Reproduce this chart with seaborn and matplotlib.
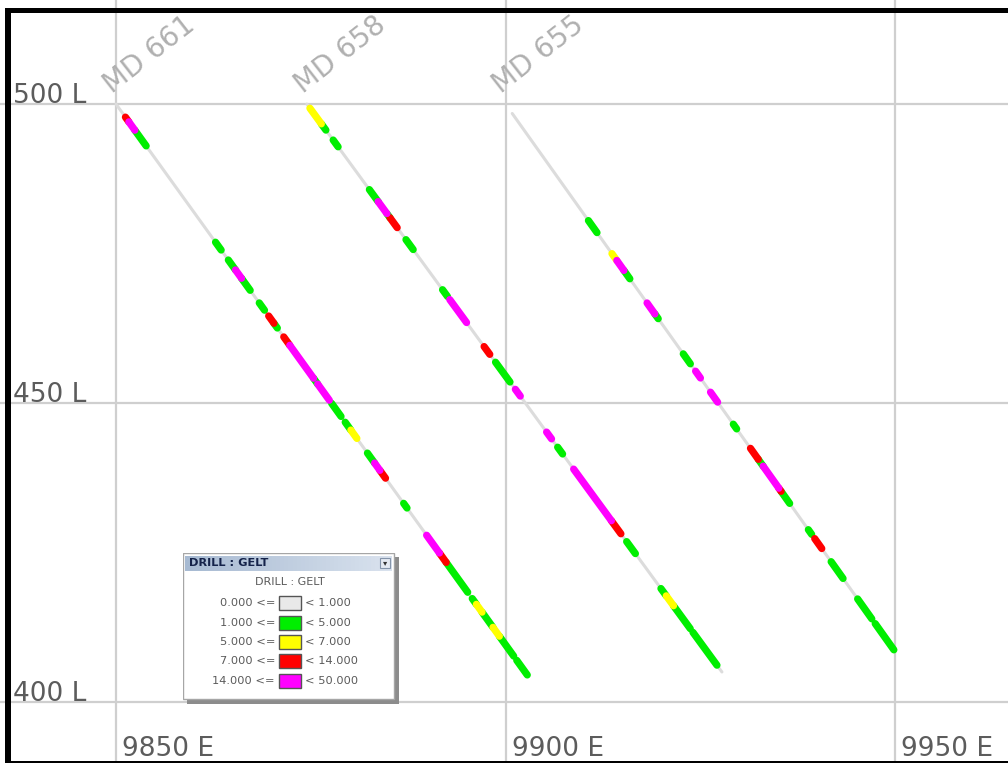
import numpy as np
import pandas as pd
import matplotlib
matplotlib.use("Agg")
import matplotlib.pyplot as plt
import seaborn as sns
from matplotlib.patches import Rectangle
from matplotlib.colors import LinearSegmentedColormap

# ---------------- data ----------------
hole_ids = ["MD 661", "MD 658", "MD 655"]
collar_e = [9850.0, 9874.5, 9900.0]
collar_rl = [500.0, 500.0, 500.0]
hole_dip = [-61.06, -60.71, -61.36]
hole_start = [0.0, 0.0, 1.8]
hole_length = [109.1, 108.9, 104.0]

# GELT grade classes (legend)
bin_lo = [0.0, 1.0, 5.0, 7.0, 14.0]
bin_hi = [1.0, 5.0, 7.0, 14.0, 50.0]
bin_colors = ["#e9e9e9", "#00ee00", "#ffff00", "#ff0000", "#ff00ff"]

# sampled intervals: from (m), to (m), class (1=G 1-5, 2=Y 5-7, 3=R 7-14, 4=M 14-50)
md661_from = [2.5, 3.4, 5.0, 26.4, 29.8, 31.7, 33.3, 38.0, 40.5, 41.9, 44.5, 46.1, 52.4, 53.5, 57.2,
              60.8, 62.3, 66.7, 68.6, 70.0, 76.3, 82.4, 85.8, 87.6, 94.5, 95.6, 97.1, 100.0, 101.7, 106.3]
md661_to = [3.4, 5.0, 8.0, 27.9, 31.7, 33.3, 35.6, 39.4, 41.9, 42.8, 46.1, 52.4, 53.5, 56.6, 59.7,
            62.3, 63.9, 68.6, 70.0, 71.5, 77.2, 85.8, 87.6, 93.3, 95.6, 97.1, 100.0, 101.7, 105.5, 109.1]
md661_cls = [3, 4, 1, 1, 1, 4, 1, 1, 3, 1, 3, 4, 1, 4, 1,
             1, 2, 1, 4, 3, 1, 4, 3, 1, 1, 2, 1, 2, 1, 1]

md658_from = [0.8, 3.8, 6.9, 16.4, 18.7, 21.0, 21.8, 26.0, 35.6, 37.5, 46.5, 49.5, 54.7, 62.9, 65.8,
              70.0, 79.9, 83.9, 92.9, 94.3, 96.2, 101.3]
md658_to = [3.8, 5.0, 8.2, 18.7, 21.0, 21.8, 23.7, 27.9, 36.9, 41.9, 48.0, 53.3, 56.0, 64.2, 67.1,
            79.9, 82.4, 86.2, 94.3, 96.2, 100.6, 107.6]
md658_cls = [2, 1, 1, 1, 4, 1, 3, 1, 1, 4, 3, 1, 4, 4, 1,
             4, 3, 1, 1, 2, 1, 1]

md655_from = [22.2, 28.5, 29.8, 31.7, 37.9, 40.0, 47.6, 50.9, 54.9, 61.0, 65.6, 67.7, 69.0, 73.2, 73.8,
              81.1, 82.8, 87.2, 94.3, 99.0]
md655_to = [24.5, 29.8, 31.7, 33.3, 40.0, 40.9, 49.5, 52.2, 56.8, 61.9, 67.7, 69.0, 73.2, 73.8, 76.1,
            82.0, 84.7, 90.4, 98.1, 104.0]
md655_cls = [1, 2, 4, 1, 4, 1, 1, 4, 4, 1, 3, 1, 4, 3, 1,
             1, 3, 1, 1, 1]

grid_e = [9850, 9900, 9950]
grid_rl = [400, 450, 500]

# ---------------- helpers ----------------
def pos(h, d):
    a = np.deg2rad(abs(hole_dip[h]))
    return collar_e[h] + d * np.cos(a), collar_rl[h] - d * np.sin(a)

trace_rows = []
for h in range(3):
    for d in (hole_start[h], hole_length[h]):
        e, rl = pos(h, d)
        trace_rows.append({"hole": hole_ids[h], "E": e, "RL": rl})
traces = pd.DataFrame(trace_rows)

seg_rows = []
sid = 0
for h, (fr, to, cl) in enumerate([(md661_from, md661_to, md661_cls),
                                   (md658_from, md658_to, md658_cls),
                                   (md655_from, md655_to, md655_cls)]):
    for a, b, c in zip(fr, to, cl):
        for d in (a, b):
            e, rl = pos(h, d)
            seg_rows.append({"seg": sid, "cls": c, "E": e, "RL": rl})
        sid += 1
segs = pd.DataFrame(seg_rows)

# ---------------- figure ----------------
W, H = 1008, 763
sns.set_theme(style="white")
plt.rcParams["font.family"] = ["DejaVu Sans"]

fig = plt.figure(figsize=(W / 100, H / 100), dpi=100)
ax = fig.add_axes([0, 0, 1, 1])
ax.set_xlim(9835.11, 9964.5)
ax.set_ylim(389.8, 517.4)
for s in ax.spines.values():
    s.set_visible(False)
ax.set_xticks(grid_e)
ax.set_yticks(grid_rl)
ax.tick_params(length=0, labelbottom=False, labelleft=False)
ax.grid(True, color="#cfcfcf", lw=1.6)
ax.set_axisbelow(True)

sns.lineplot(data=traces, x="E", y="RL", units="hole", estimator=None, sort=False,
             color="#dcdcdc", lw=2.2, ax=ax, legend=False)
pal = {i: bin_colors[i] for i in range(5)}
sns.lineplot(data=segs, x="E", y="RL", units="seg", hue="cls", palette=pal, estimator=None,
             sort=False, lw=5.2, ax=ax, legend=False, solid_capstyle="round")
ax.set_xlabel("")
ax.set_ylabel("")

# hole labels
for h in range(3):
    ax.annotate(hole_ids[h], xy=(collar_e[h], collar_rl[h]), xytext=(-3, 7),
                textcoords="offset points", rotation=38, rotation_mode="anchor",
                ha="left", va="baseline", fontsize=20, color="#b0b0b0")

# grid labels
for e in grid_e:
    ax.annotate(f"{e} E", xy=(e, 0), xycoords=("data", "axes fraction"), xytext=(4.5, 0.5),
                textcoords="offset points", ha="left", va="bottom", fontsize=19, color="#5c5c5c")
for rl in grid_rl:
    ax.annotate(f"{rl} L", xy=(0, rl), xycoords=("axes fraction", "data"), xytext=(9.2, 0.6),
                textcoords="offset points", ha="left", va="baseline", fontsize=19, color="#5c5c5c")

# ---------------- legend panel ----------------
lax = fig.add_axes([183 / W, 1 - 704 / H, 216 / W, 151 / H])
lax.set_xlim(0, 216)
lax.set_ylim(151, 0)
lax.axis("off")
lax.add_patch(Rectangle((4, 4), 212, 147, fc="#8c8c8c", ec="none"))
lax.add_patch(Rectangle((0, 0), 211, 146, fc="white", ec="#a6a6a6", lw=1))
grad = np.linspace(0, 1, 50).reshape(1, -1)
cm = LinearSegmentedColormap.from_list("tb", ["#a7bad2", "#d9e2ee"])
lax.imshow(grad, cmap=cm, extent=(2, 209, 18, 3), aspect="auto", zorder=2)
lax.text(6, 10.5, "DRILL : GELT", fontsize=8.2, fontweight="bold", color="#15234a",
         va="center", ha="left", zorder=3)
lax.add_patch(Rectangle((197, 5), 10, 10, fc="#e4e9f1", ec="#8494aa", lw=0.8, zorder=3))
lax.text(202, 10, "▾", fontsize=6, color="#333", ha="center", va="center", zorder=4)
lax.text(107, 29, "DRILL : GELT", fontsize=8.0, color="#5a5a5a", ha="center", va="center")
row_y = [50, 69.5, 89, 108, 127.5]
for i in range(5):
    y = row_y[i]
    lax.text(92, y, f"{bin_lo[i]:.3f} <=", fontsize=8.2, color="#5a5a5a", ha="right", va="center")
    lax.add_patch(Rectangle((96, y - 7), 22, 14, fc=bin_colors[i], ec="#555555", lw=1))
    lax.text(122, y, f"< {bin_hi[i]:.3f}", fontsize=8.2, color="#5a5a5a", ha="left", va="center")

# ---------------- black frame ----------------
def fig_rect(x0, y0, x1, y1):
    fig.patches.append(Rectangle((x0 / W, 1 - y1 / H), (x1 - x0) / W, (y1 - y0) / H,
                                 transform=fig.transFigure, fc="black", ec="none", zorder=10))

fig_rect(5, 8, W, 13)
fig_rect(5, 8, 11, H)
fig_rect(5, H - 2, W, H)

fig.savefig("out.png", dpi=100)
